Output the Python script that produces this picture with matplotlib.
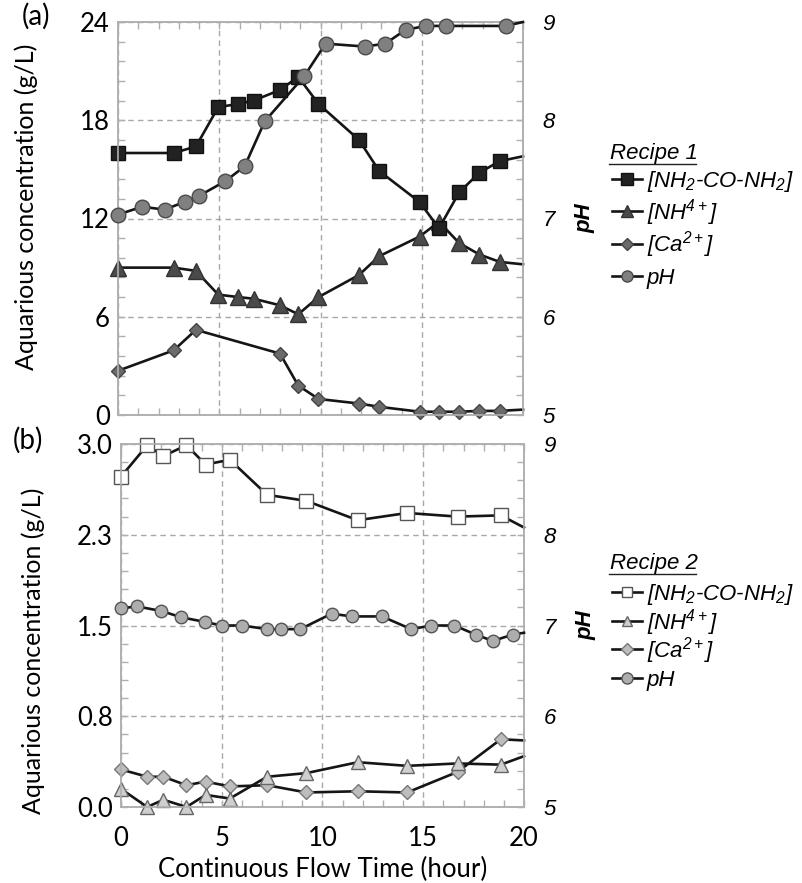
import numpy as np
import matplotlib
matplotlib.use("Agg")
import matplotlib.pyplot as plt
from matplotlib.lines import Line2D
from matplotlib.ticker import MultipleLocator, FixedLocator

plt.rcParams["font.family"] = ["Lato", "DejaVu Sans"]
plt.rcParams["mathtext.fontset"] = "custom"
plt.rcParams["mathtext.rm"] = "Liberation Sans:italic"
plt.rcParams["mathtext.it"] = "Liberation Sans:italic"

# ── data: recipe 1 (panel a) ──────────────────────────────────────────────────
t_a = [0, 2.75, 3.85, 4.95, 5.95, 6.7, 8.0, 8.9, 9.9, 11.9, 12.9, 14.9,
       15.85, 16.85, 17.85, 18.85, 20]
urea_a = [16.0, 16.0, 16.4, 18.8, 19.0, 19.2, 19.85, 20.65, 19.0, 16.8, 14.9,
          13.0, 11.4, 13.6, 14.8, 15.5, 15.8]
nh4_a = [9.0, 9.0, 8.8, 7.35, 7.2, 7.1, 6.7, 6.15, 7.2, 8.55, 9.7, 10.9,
         11.8, 10.5, 9.8, 9.35, 9.2]
t_ca_a = [0, 2.75, 3.85, 8.0, 8.9, 9.9, 11.9, 12.9, 14.9, 15.85, 16.85,
          17.85, 18.85, 20]
ca_a = [2.7, 3.95, 5.2, 3.75, 1.8, 0.98, 0.7, 0.5, 0.2, 0.2, 0.2, 0.25,
        0.25, 0.33]
t_ph_a = [0, 1.2, 2.3, 3.3, 4.0, 5.3, 6.25, 7.25, 9.2, 10.25, 12.2, 13.2,
          14.2, 15.2, 16.2, 19.15, 20]
ph_a = [7.04, 7.12, 7.09, 7.17, 7.23, 7.38, 7.53, 7.99, 8.45, 8.78, 8.75,
        8.78, 8.92, 8.96, 8.96, 8.96, 9.0]

# ── data: recipe 2 (panel b) ──────────────────────────────────────────────────
t_b = [0, 1.3, 2.1, 3.25, 4.2, 5.4, 7.25, 9.2, 11.75, 14.2, 16.7, 18.85, 20]
urea_b = [2.73, 2.99, 2.90, 2.99, 2.83, 2.87, 2.58, 2.53, 2.37, 2.43, 2.40,
          2.41, 2.31]
nh4_b = [0.15, 0.0, 0.06, 0.0, 0.10, 0.07, 0.25, 0.28, 0.37, 0.34, 0.36,
         0.35, 0.42]
ca_b = [0.31, 0.25, 0.25, 0.18, 0.21, 0.17, 0.18, 0.12, 0.13, 0.12, 0.29,
        0.56, 0.55]
t_ph_b = [0, 0.8, 2.0, 3.0, 4.15, 5.0, 6.0, 7.25, 7.95, 8.9, 10.45, 11.45,
          12.95, 14.4, 15.4, 16.55, 17.6, 18.45, 19.45, 20]
ph_b = [7.19, 7.21, 7.16, 7.09, 7.04, 7.0, 7.0, 6.96, 6.96, 6.96, 7.13, 7.10,
        7.10, 6.96, 7.0, 7.0, 6.90, 6.83, 6.90, 6.92]

LABELS = [r"[NH$_2$-CO-NH$_2$]", r"[NH$^{4+}$]", r"[Ca$^{2+}$]", "pH"]
SPINE = "#b0b0b0"
GRID = "#a8a8a8"
LW = 1.9

fig = plt.figure(figsize=(8.03, 8.83), dpi=100)
W, H = 803, 883


def px_axes(l, r, t, b):
    return fig.add_axes([l / W, 1 - b / H, (r - l) / W, (b - t) / H])


def style_panel(ax, ax2, ymax, left_major, left_labels, show_x, ylab_pos):
    ax.set_xlim(0, 20)
    ax.set_ylim(0, ymax)
    ax2.set_ylim(5, 9)
    ax.yaxis.set_major_locator(FixedLocator(left_major))
    ax.set_yticklabels(left_labels)
    ax.yaxis.set_minor_locator(MultipleLocator(ymax / 20))
    ax2.yaxis.set_major_locator(MultipleLocator(1))
    ax2.yaxis.set_minor_locator(MultipleLocator(0.2))
    ax.xaxis.set_major_locator(MultipleLocator(5))
    ax.xaxis.set_minor_locator(MultipleLocator(1))
    for a in (ax, ax2):
        for s in a.spines.values():
            s.set_color(SPINE)
            s.set_linewidth(1.2)
    ax.tick_params(axis="both", which="both", direction="in", color=SPINE,
                   top=True, bottom=True, left=True, right=False)
    ax.tick_params(which="major", length=5, width=1)
    ax.tick_params(which="minor", length=5, width=1)
    ax.tick_params(axis="y", labelsize=18.5, pad=6)
    ax.tick_params(axis="x", labelsize=18.5, pad=14, labelbottom=show_x)
    ax2.tick_params(axis="y", which="both", direction="in", color=SPINE,
                    length=5, width=1, labelsize=16, pad=14)
    for lab in ax2.get_yticklabels():
        lab.set_fontfamily("Liberation Sans")
        lab.set_fontstyle("italic")
    ax.grid(True, which="major", linestyle=(0, (4, 3)), color=GRID, linewidth=1)
    ax.set_ylabel("Aquarious concentration (g/L)", fontsize=18)
    ax.yaxis.set_label_coords(*ylab_pos)
    ax2.set_ylabel("pH", fontsize=16, fontweight="bold", fontstyle="italic",
                   family="Liberation Sans", labelpad=14)


def series(ax, t, y, marker, ms, fc, ec, clip=False):
    n = len(t)
    ax.plot(t, y, color="#151515", lw=LW, marker=marker, ms=ms, mfc=fc,
            mec=ec, mew=1.0, markevery=list(range(n - 1)), clip_on=clip,
            zorder=3)


# ── panel (a) ─────────────────────────────────────────────────────────────────
ax = px_axes(118, 523, 22, 415)
ax2 = ax.twinx()
style_panel(ax, ax2, 24, [0, 6, 12, 18, 24], ["0", "6", "12", "18", "24"],
            False, (-0.198, 0.53))
series(ax, t_ca_a, ca_a, "D", 7.5, "#6a6a6a", "#444444")
series(ax, t_a, nh4_a, "^", 11, "#4a4a4a", "#333333")
series(ax, t_a, urea_a, "s", 10, "#222222", "#111111")
series(ax2, t_ph_a, ph_a, "o", 10.5, "#808080", "#4a4a4a")

# ── panel (b) ─────────────────────────────────────────────────────────────────
bx = px_axes(121, 524, 444, 807)
bx2 = bx.twinx()
style_panel(bx, bx2, 3.0, [0, 0.75, 1.5, 2.25, 3.0],
            ["0.0", "0.8", "1.5", "2.3", "3.0"], True, (-0.189, 0.43))
series(bx, t_b, ca_b, "D", 7, "#bdbdbd", "#777777")
series(bx, t_b, nh4_b, "^", 10, "#cfcfcf", "#666666")
series(bx, t_b, urea_b, "s", 9.5, "white", "#555555")
series(bx2, t_ph_b, ph_b, "o", 9, "#adadad", "#555555")
bx.set_xlabel("Continuous Flow Time (hour)", fontsize=18.5, labelpad=4)

fig.text(22 / W, 1 - 16 / H, "(a)", fontsize=20, va="center", ha="left")
fig.text(13 / W, 1 - 440 / H, "(b)", fontsize=20, va="center", ha="left")


# ── legends (drawn row by row, rows have fixed pitch like the original) ──────
def legend_block(title, y_title, rows_y, styles):
    fig.text(610 / W, 1 - y_title / H, title, fontsize=16, style="italic",
             family="Liberation Sans", va="center", ha="left")
    fig.add_artist(Line2D([609 / W, 696 / W], [1 - (y_title + 10) / H] * 2,
                          color="#222222", lw=1.0))
    for ry, lab, (m, s, fc, ec) in zip(rows_y, LABELS, styles):
        fig.add_artist(Line2D([612 / W, 627 / W, 642 / W], [1 - ry / H] * 3,
                              color="#151515", lw=LW, marker=m, ms=s, mfc=fc,
                              mec=ec, mew=1.0, markevery=[1]))
        fig.text(647 / W, 1 - (ry + 8) / H, lab, fontsize=16, style="italic",
                 family="Liberation Sans", va="baseline", ha="left")


legend_block("Recipe 1", 154, [179, 211, 244, 276],
             [("s", 8, "#222222", "#111111"),
              ("^", 8, "#4a4a4a", "#333333"),
              ("D", 6, "#6a6a6a", "#444444"),
              ("o", 8, "#808080", "#4a4a4a")])
legend_block("Recipe 2", 564, [592, 621, 649, 678],
             [("s", 7, "white", "#555555"),
              ("^", 7, "#cfcfcf", "#666666"),
              ("D", 6, "#bdbdbd", "#777777"),
              ("o", 8, "#adadad", "#555555")])

fig.savefig("out.png", dpi=100)
